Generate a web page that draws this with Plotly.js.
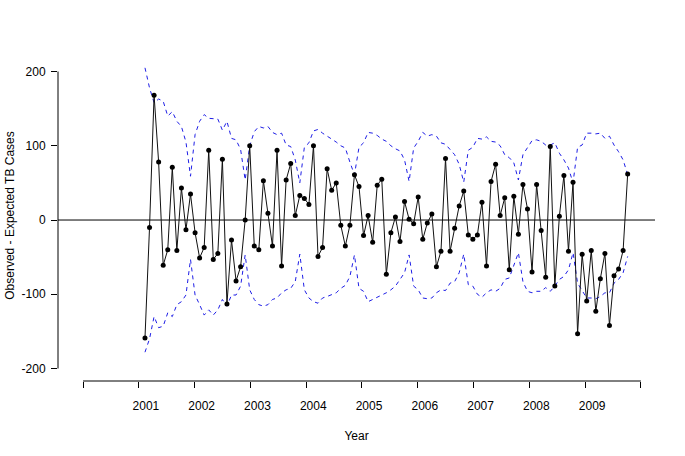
<!DOCTYPE html>
<html>
<head>
<meta charset="utf-8">
<script src="https://cdn.plot.ly/plotly-3.0.1.min.js"></script>
<style>html,body{margin:0;padding:0;background:#fff;}#chart{width:685px;height:456px;}</style>
</head>
<body>
<div id="chart"></div>
<script>
// Observed - expected TB cases, one value per period
const OBS = [
  -159, -10, 168, 78, -61, -40, 71, -41, 43, -13, 35,
  -17, -51, -37, 94, -53, -45, 82, -113, -27, -82, -63, 0,
  100, -35, -40, 53, 9, -35, 94, -62, 54, 76, 6, 33,
  29, 21, 100, -49, -37, 69, 40, 50, -7, -35, -7, 61,
  45, -21, 6, -30, 47, 55, -73, -17, 4, -29, 25, 1,
  -5, 31, -26, -4, 8, -63, -42, 83, -42, -11, 19, 39,
  -20, -26, -20, 24, -62, 52, 75, 6, 30, -67, 32, -19,
  48, 15, -70, 48, -14, -77, 99, -89, 5, 60, -42, 51,
  -153, -46, -109, -41, -123, -79, -45, -142, -75, -66, -41, 62
];
// Upper limit (blue dashed)
const UPPER = [
  205, 178, 158, 163, 160, 140, 146, 133, 126, 105, 59,
  115, 133, 142, 137, 137, 136, 121, 133, 110, 108, 95, 54,
  100, 119, 126, 124, 126, 118, 115, 117, 101, 99, 81, 50,
  98, 104, 120, 122, 117, 113, 110, 105, 100, 97, 78, 61,
  98, 104, 118, 117, 114, 109, 106, 100, 96, 93, 81, 52,
  97, 106, 118, 113, 115, 113, 104, 102, 95, 88, 75, 51,
  94, 98, 110, 109, 112, 106, 105, 100, 88, 84, 77, 54,
  88, 98, 107, 108, 106, 101, 101, 104, 90, 81, 70, 50,
  98, 101, 117, 117, 116, 117, 110, 113, 101, 92, 81, 61
];
// Lower limit (blue dashed)
const LOWER = [
  -178, -160, -130, -145, -143, -125, -130, -114, -110, -101, -53,
  -101, -114, -128, -121, -128, -121, -107, -116, -101, -101, -89, -47,
  -94, -107, -114, -116, -114, -107, -105, -98, -94, -92, -83, -46,
  -94, -105, -110, -112, -105, -103, -101, -98, -92, -88, -76, -47,
  -92, -96, -110, -107, -105, -101, -98, -94, -89, -80, -71, -47,
  -89, -94, -105, -106, -105, -98, -94, -95, -85, -83, -71, -46,
  -87, -89, -100, -104, -98, -94, -96, -92, -80, -78, -62, -44,
  -83, -96, -98, -96, -96, -91, -96, -89, -80, -76, -67, -44,
  -85, -96, -105, -105, -106, -103, -98, -98, -85, -80, -71, -49
];
const YEARS = ['2001','2002','2003','2004','2005','2006','2007','2008','2009'];
const Y_TICKS = [-200, -100, 0, 100, 200];
const Y_TICK_TEXT = ['-200', '-100', '0', '100', '200'];

const PERIOD = OBS.map((_, k) => k + 1);

// layout geometry (axis units = period index)
const XR = [-18.1, 113.0];
const YR = [-216.8, 229.0];
const STEP = 12.25;
const TICK_POS = Array.from({length: YEARS.length + 2}, (_, k) => -12.6 + k * STEP);
const LABEL_POS = YEARS.map((_, k) => 1.2 + k * STEP);

const px = v => (v - XR[0]) / (XR[1] - XR[0]);
const py = v => (v - YR[0]) / (YR[1] - YR[0]);

const FONT = 'Liberation Sans, Arial, Helvetica, sans-serif';
const dashLine = {color: 'rgb(30,30,230)', width: 1, dash: '4px,4px'};

const traces = [
  {x: PERIOD, y: UPPER, mode: 'lines', line: dashLine, hoverinfo: 'skip', showlegend: false},
  {x: PERIOD, y: LOWER, mode: 'lines', line: dashLine, hoverinfo: 'skip', showlegend: false},
  {x: PERIOD, y: OBS, mode: 'lines+markers', line: {color: '#111', width: 1},
   marker: {color: '#000', size: 5}, showlegend: false}
];

const layout = {
  width: 685, height: 456,
  margin: {l: 58, r: 30, t: 50, b: 75},
  paper_bgcolor: '#fff', plot_bgcolor: '#fff',
  font: {family: FONT, size: 12, color: '#000'},
  showlegend: false,
  xaxis: {
    range: XR, showgrid: false, zeroline: false, showline: false,
    tickmode: 'array', tickvals: LABEL_POS, ticktext: YEARS, ticks: '',
    ticklabelstandoff: 16,
    tickfont: {family: FONT, size: 12, color: '#000'},
    minor: {tickmode: 'array', tickvals: TICK_POS, ticks: 'outside', ticklen: 6, tickwidth: 1, tickcolor: '#000', showgrid: false},
    title: {text: 'Year', font: {family: FONT, size: 12, color: '#000'}, standoff: 19}
  },
  yaxis: {
    range: YR, showgrid: false, zeroline: false, showline: false,
    tickmode: 'array', tickvals: Y_TICKS, ticktext: Y_TICK_TEXT,
    ticks: 'outside', ticklen: 6, tickwidth: 1, tickcolor: '#000',
    ticklabelstandoff: 3,
    tickfont: {family: FONT, size: 12, color: '#000'},
    title: {text: 'Observed - Expected TB Cases', font: {family: FONT, size: 12, color: '#000'}, standoff: 4}
  },
  shapes: [
    {type: 'line', xref: 'paper', yref: 'paper', x0: 0, x1: 1, y0: py(0), y1: py(0), line: {color: '#000', width: 1}, layer: 'below'},
    {type: 'line', xref: 'paper', yref: 'paper', x0: px(TICK_POS[0]), x1: px(TICK_POS[TICK_POS.length - 1]), y0: 0, y1: 0, line: {color: '#000', width: 1}},
    {type: 'line', xref: 'paper', yref: 'paper', x0: 0, x1: 0, y0: py(Y_TICKS[0]), y1: py(Y_TICKS[Y_TICKS.length - 1]), line: {color: '#000', width: 1}}
  ]
};

Plotly.newPlot('chart', traces, layout, {displayModeBar: false, staticPlot: true});
</script>
</body>
</html>
